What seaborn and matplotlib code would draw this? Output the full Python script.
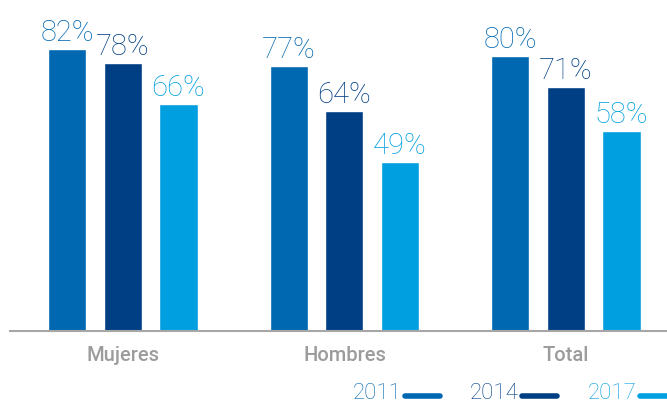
import matplotlib
matplotlib.use("Agg")
import matplotlib.pyplot as plt
import seaborn as sns
import pandas as pd
from matplotlib.lines import Line2D

categories = ["Mujeres", "Hombres", "Total"]
years = ["2011", "2014", "2017"]
v2011 = [82, 77, 80]
v2014 = [78, 64, 71]
v2017 = [66, 49, 58]
colors = ["#0068b1", "#003f84", "#009fe0"]

rows = []
for yr, vals in zip(years, [v2011, v2014, v2017]):
    for c, v in zip(categories, vals):
        rows.append({"cat": c, "year": yr, "val": v})
df = pd.DataFrame(rows)

sns.set_theme(style="white")
plt.rcParams['font.family'] = ['Roboto', 'DejaVu Sans']

fig = plt.figure(figsize=(6.67, 4.05), dpi=100)
ax = fig.add_axes([10/667, 74/405, 657/667, 320/405])

sns.barplot(data=df, x="cat", y="val", hue="year", palette=colors,
            width=0.752, gap=0.315, ax=ax, legend=False, saturation=1)

ax.set_ylim(0, 93)
ax.set_xlim(-0.510, 2.456)
ax.set_xlabel("")
ax.set_ylabel("")
ax.set_yticks([])
for s in ["top", "right", "left"]:
    ax.spines[s].set_visible(False)
ax.spines["bottom"].set_color("#a6a6a6")
ax.spines["bottom"].set_linewidth(1.5)
ax.tick_params(axis="x", length=0, pad=11, labelsize=14.5, labelcolor="#9c9c9c")
for t in ax.get_xticklabels():
    t.set_fontweight("medium")

for cont, col in zip(ax.containers, colors):
    labels = [f"{int(v)}%" for v in cont.datavalues]
    ax.bar_label(cont, labels=labels, padding=1.5, color=col, fontsize=21,
                 fontweight="light", clip_on=False)

# legend at bottom right
leg_x = [353, 470, 588]
for yr, col, x in zip(years, colors, leg_x):
    fig.text(x/667, 1 - 404/405, yr, color=col, fontsize=16, fontweight="light",
             ha="left", va="bottom")
    fig.add_artist(Line2D([(x+52)/667, (x+87)/667], [1-396/405, 1-396/405],
                          color=col, lw=4, transform=fig.transFigure))

fig.savefig("out.png", dpi=100)
